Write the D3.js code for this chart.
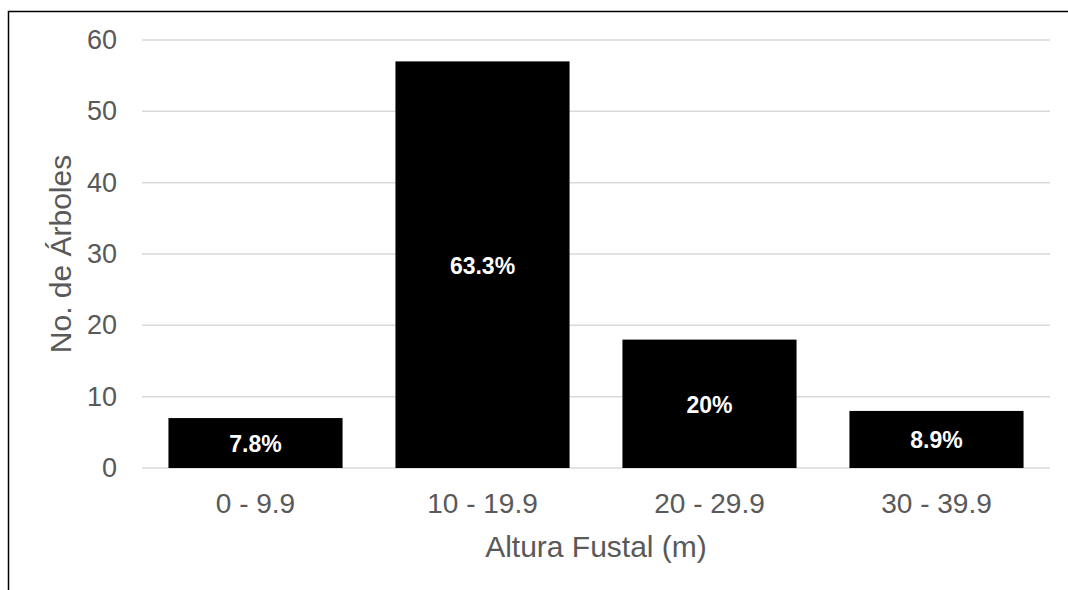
<!DOCTYPE html>
<html>
<head>
<meta charset="utf-8">
<script src="https://cdn.jsdelivr.net/npm/d3@7"></script>
<style>
  html, body { margin: 0; padding: 0; background: #fff; }
  svg { display: block; font-family: "Liberation Sans", Arial, sans-serif; }
</style>
</head>
<body>
<svg id="chart" width="1068" height="590"></svg>
<script>
// Tree counts by trunk height class
const categories = ["0 - 9.9", "10 - 19.9", "20 - 29.9", "30 - 39.9"];
const counts = [7, 57, 18, 8];
const percentLabels = ["7.8%", "63.3%", "20%", "8.9%"];
const yTicks = [0, 10, 20, 30, 40, 50, 60];

const svg = d3.select("#chart");
const W = 1068, H = 590;
const margin = { left: 142, right: 18, top: 40, bottom: 122 };
const FONT = "Liberation Sans, Arial, sans-serif";

// Frame around the chart (only top and left edges fall inside the page)
svg.append("rect")
  .attr("x", 8.5).attr("y", 11.5)
  .attr("width", W + 20).attr("height", H + 20)
  .attr("fill", "none").attr("stroke", "#000").attr("stroke-width", 1.5);

const x = d3.scaleBand()
  .domain(categories)
  .range([margin.left, W - margin.right])
  .paddingInner(0.233)
  .paddingOuter(0.1165);

const y = d3.scaleLinear()
  .domain([0, 60])
  .range([H - margin.bottom, margin.top]);

// Horizontal gridlines
svg.append("g")
  .selectAll("line")
  .data(yTicks)
  .join("line")
  .attr("x1", margin.left).attr("x2", W - margin.right)
  .attr("y1", d => y(d)).attr("y2", d => y(d))
  .attr("stroke", "#d9d9d9").attr("stroke-width", 1.5);

// Y axis tick labels
const yAxis = d3.axisLeft(y).tickValues(yTicks).tickSize(0).tickPadding(0);
const gy = svg.append("g")
  .attr("transform", `translate(${margin.left - 25},0)`)
  .call(yAxis);
gy.select(".domain").remove();
gy.attr("font-size", null).attr("font-family", null);
gy.selectAll("text")
  .attr("fill", "#595959")
  .style("font-size", "27px")
  .style("font-family", FONT);

// Bars
svg.append("g")
  .selectAll("rect")
  .data(counts)
  .join("rect")
  .attr("x", (d, i) => x(categories[i]))
  .attr("width", x.bandwidth())
  .attr("y", d => y(d))
  .attr("height", d => y(0) - y(d))
  .attr("fill", "#000");

// Percentage labels inside bars
svg.append("g")
  .selectAll("text")
  .data(counts)
  .join("text")
  .attr("x", (d, i) => x(categories[i]) + x.bandwidth() / 2)
  .attr("y", d => (y(d) + y(0)) / 2 + 9)
  .attr("text-anchor", "middle")
  .attr("fill", "#fff")
  .style("font-weight", "bold")
  .style("font-size", "23px")
  .style("font-family", FONT)
  .text((d, i) => percentLabels[i]);

// X axis category labels
const xAxis = d3.axisBottom(x).tickSize(0).tickPadding(0);
const gx = svg.append("g")
  .attr("transform", `translate(0,${y(0) + 45})`)
  .call(xAxis);
gx.select(".domain").remove();
gx.attr("font-size", null).attr("font-family", null);
gx.selectAll("text")
  .attr("fill", "#595959")
  .attr("dy", null)
  .style("font-size", "28px")
  .style("font-family", FONT);

// Axis titles
svg.append("text")
  .attr("x", (margin.left + W - margin.right) / 2)
  .attr("y", 557)
  .attr("text-anchor", "middle")
  .attr("fill", "#595959")
  .style("font-size", "30px")
  .style("font-family", FONT)
  .text("Altura Fustal (m)");

svg.append("text")
  .attr("transform", "translate(71,254) rotate(-90)")
  .attr("text-anchor", "middle")
  .attr("fill", "#595959")
  .style("font-size", "30px")
  .style("font-family", FONT)
  .text("No. de Árboles");
</script>
</body>
</html>
